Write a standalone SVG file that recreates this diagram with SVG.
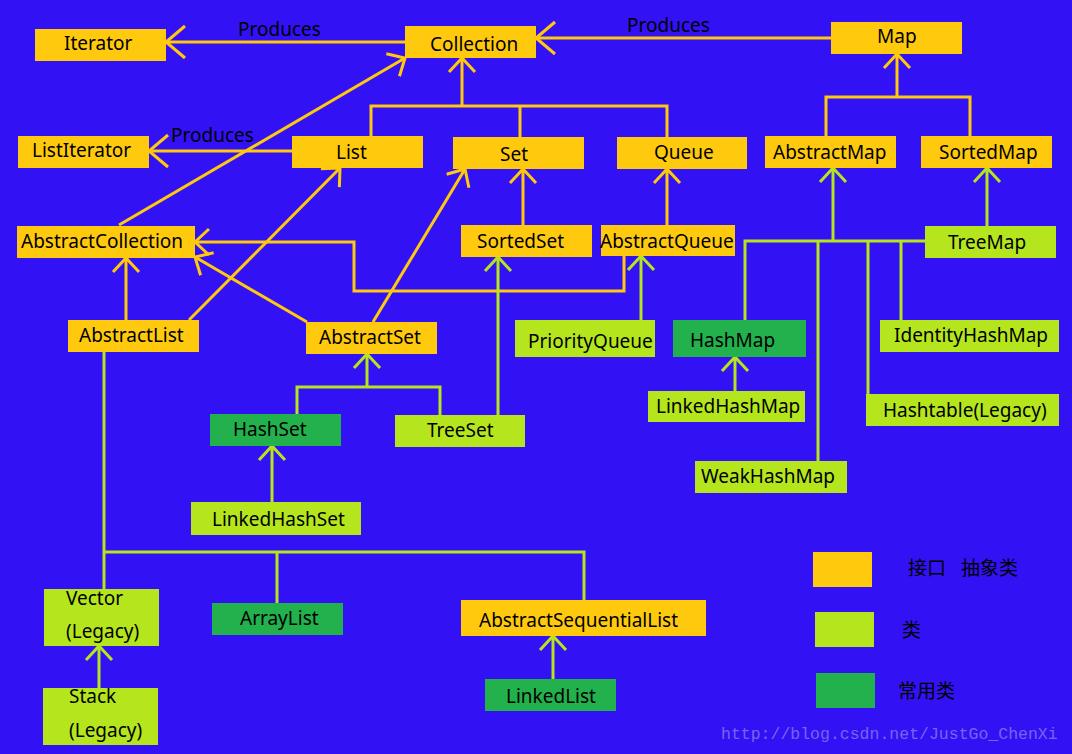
<svg xmlns="http://www.w3.org/2000/svg" width="1072" height="754" viewBox="0 0 1072 754">
<style>
.o{fill:#FFC90E}
.g{fill:#B5E61D}
.d{fill:#22B14C}
.t{font-family:"Noto Sans","Open Sans",sans-serif;font-size:19px;fill:#000}
.c{font-family:"Noto Sans CJK SC","Noto Sans",sans-serif;font-size:19px;fill:#000}
.w{font-family:"Liberation Mono",monospace;font-size:16.5px;fill:#7466F2}
.lo{fill:none;stroke:#FFC90E;stroke-width:3}
.lg{fill:none;stroke:#B5E61D;stroke-width:3}
</style>
<defs>
<marker id="ao" viewBox="-20 -16 22 32" refX="0" refY="0" markerWidth="22" markerHeight="32" markerUnits="userSpaceOnUse" orient="auto" overflow="visible"><path d="M-14,-13 L0,0 L-14,13" fill="none" stroke="#FFC90E" stroke-width="3"/></marker>
<marker id="ab" viewBox="-22 -18 24 36" refX="0" refY="0" markerWidth="24" markerHeight="36" markerUnits="userSpaceOnUse" orient="auto" overflow="visible"><path d="M-19,-16 L0,0 L-19,16" fill="none" stroke="#FFC90E" stroke-width="3"/></marker>
<marker id="ag" viewBox="-20 -16 22 32" refX="0" refY="0" markerWidth="22" markerHeight="32" markerUnits="userSpaceOnUse" orient="auto" overflow="visible"><path d="M-14,-13 L0,0 L-14,13" fill="none" stroke="#B5E61D" stroke-width="3"/></marker>
</defs>
<rect x="0" y="0" width="1072" height="754" fill="#3311F5"/>
<g id="connectors">
<path class="lo" d="M405,42 H166" marker-end="url(#ab)"/>
<path class="lo" d="M831,38 H536" marker-end="url(#ab)"/>
<path class="lo" d="M292,151 H149" marker-end="url(#ab)"/>
<path class="lo" d="M462,106 V58" marker-end="url(#ao)"/>
<path class="lo" d="M371,136 V106 H667 V137 M520,106 V137"/>
<path class="lo" d="M897,97 V54" marker-end="url(#ao)"/>
<path class="lo" d="M826,136 V97 H970 V136"/>
<path class="lo" d="M119,225 L405,58" marker-end="url(#ao)"/>
<path class="lo" d="M189,320 L340,168" marker-end="url(#ao)"/>
<path class="lo" d="M373,322 L465,169" marker-end="url(#ao)"/>
<path class="lo" d="M523,225 V169" marker-end="url(#ao)"/>
<path class="lo" d="M667,225 V169" marker-end="url(#ao)"/>
<path class="lo" d="M126,320 V258" marker-end="url(#ao)"/>
<path class="lo" d="M624,256 V291 H354 V242 H195" marker-end="url(#ao)"/>
<path class="lo" d="M307,322 L195,257" marker-end="url(#ao)"/>
<path class="lg" d="M498,415 V257" marker-end="url(#ag)"/>
<path class="lg" d="M641,320 V256" marker-end="url(#ag)"/>
<path class="lg" d="M833,241 V168" marker-end="url(#ag)"/>
<path class="lg" d="M745,320 V241 H925 M818,241 V461 M868,241 V394 M901,241 V320"/>
<path class="lg" d="M987,226 V168" marker-end="url(#ag)"/>
<path class="lg" d="M735,391 V357" marker-end="url(#ag)"/>
<path class="lg" d="M367,387 V354" marker-end="url(#ag)"/>
<path class="lg" d="M297,414 V387 H440 V415"/>
<path class="lg" d="M272,502 V446" marker-end="url(#ag)"/>
<path class="lg" d="M104,352 V589 M104,552 H584 V600 M277,552 V603"/>
<path class="lg" d="M99,688 V646" marker-end="url(#ag)"/>
<path class="lg" d="M553,679 V636" marker-end="url(#ag)"/>
<text class="t" x="238" y="36">Produces</text>
<text class="t" x="171" y="142">Produces</text>
<text class="t" x="627" y="32">Produces</text>
</g>
<g id="Iterator"><rect class="o" x="35" y="29" width="131" height="32"/><text class="t" x="64" y="50">Iterator</text></g>
<g id="Collection"><rect class="o" x="405" y="26" width="131" height="32"/><text class="t" x="430" y="51">Collection</text></g>
<g id="Map"><rect class="o" x="831" y="22" width="131" height="32"/><text class="t" x="877" y="43">Map</text></g>
<g id="ListIterator"><rect class="o" x="18" y="136" width="131" height="32"/><text class="t" x="32" y="157">ListIterator</text></g>
<g id="List"><rect class="o" x="292" y="136" width="131" height="32"/><text class="t" x="336" y="159">List</text></g>
<g id="Set"><rect class="o" x="453" y="137" width="131" height="32"/><text class="t" x="500" y="161">Set</text></g>
<g id="Queue"><rect class="o" x="617" y="137" width="130" height="32"/><text class="t" x="654" y="159">Queue</text></g>
<g id="AbstractMap"><rect class="o" x="765" y="136" width="131" height="32"/><text class="t" x="773" y="159">AbstractMap</text></g>
<g id="SortedMap"><rect class="o" x="921" y="136" width="131" height="32"/><text class="t" x="939" y="159">SortedMap</text></g>
<g id="AbstractCollection"><rect class="o" x="17" y="226" width="178" height="32"/><text class="t" x="21" y="248">AbstractCollection</text></g>
<g id="SortedSet"><rect class="o" x="461" y="225" width="131" height="32"/><text class="t" x="477" y="248">SortedSet</text></g>
<g id="AbstractQueue"><rect class="o" x="601" y="225" width="134" height="31"/><text class="t" x="600" y="248">AbstractQueue</text></g>
<g id="TreeMap"><rect class="g" x="925" y="226" width="131" height="32"/><text class="t" x="948" y="249">TreeMap</text></g>
<g id="AbstractList"><rect class="o" x="68" y="320" width="131" height="32"/><text class="t" x="79" y="342">AbstractList</text></g>
<g id="AbstractSet"><rect class="o" x="306" y="322" width="131" height="32"/><text class="t" x="319" y="344">AbstractSet</text></g>
<g id="PriorityQueue"><rect class="g" x="515" y="320" width="140" height="37"/><text class="t" x="528" y="348">PriorityQueue</text></g>
<g id="HashMap"><rect class="d" x="673" y="320" width="133" height="37"/><text class="t" x="690" y="347">HashMap</text></g>
<g id="IdentityHashMap"><rect class="g" x="880" y="320" width="179" height="32"/><text class="t" x="894" y="342">IdentityHashMap</text></g>
<g id="LinkedHashMap"><rect class="g" x="648" y="391" width="157" height="31"/><text class="t" x="656" y="413">LinkedHashMap</text></g>
<g id="Hashtable"><rect class="g" x="866" y="394" width="193" height="32"/><text class="t" x="883" y="417">Hashtable(Legacy)</text></g>
<g id="WeakHashMap"><rect class="g" x="695" y="461" width="152" height="32"/><text class="t" x="701" y="483">WeakHashMap</text></g>
<g id="HashSet"><rect class="d" x="210" y="414" width="131" height="32"/><text class="t" x="233" y="436">HashSet</text></g>
<g id="TreeSet"><rect class="g" x="395" y="415" width="130" height="32"/><text class="t" x="427" y="437">TreeSet</text></g>
<g id="LinkedHashSet"><rect class="g" x="191" y="502" width="170" height="33"/><text class="t" x="212" y="526">LinkedHashSet</text></g>
<g id="Vector"><rect class="g" x="44" y="589" width="115" height="57"/><text class="t" x="66" y="605">Vector</text><text class="t" x="66" y="638">(Legacy)</text></g>
<g id="Stack"><rect class="g" x="43" y="688" width="115" height="57"/><text class="t" x="69" y="703">Stack</text><text class="t" x="69" y="737">(Legacy)</text></g>
<g id="ArrayList"><rect class="d" x="212" y="603" width="131" height="32"/><text class="t" x="240" y="625">ArrayList</text></g>
<g id="AbstractSequentialList"><rect class="o" x="461" y="600" width="245" height="36"/><text class="t" x="479" y="627">AbstractSequentialList</text></g>
<g id="LinkedList"><rect class="d" x="485" y="679" width="131" height="32"/><text class="t" x="506" y="703">LinkedList</text></g>
<g id="legend">
<rect class="o" x="813" y="552" width="59" height="35"/>
<text class="c" x="908" y="575">接口<tspan x="961">抽象类</tspan></text>
<rect class="g" x="815" y="612" width="59" height="35"/>
<text class="c" x="902" y="637">类</text>
<rect class="d" x="816" y="673" width="59" height="35"/>
<text class="c" x="898" y="698">常用类</text>
</g>
<text class="w" x="721" y="739">http://blog.csdn.net/JustGo_ChenXi</text>
</svg>
